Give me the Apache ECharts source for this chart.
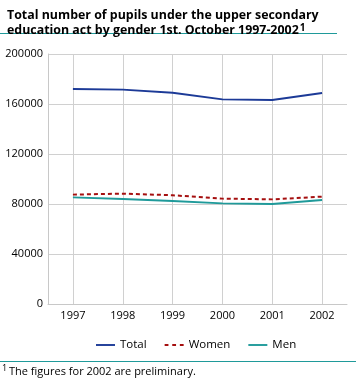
<!DOCTYPE html>
<html><head><meta charset="utf-8">
<script src="https://cdn.jsdelivr.net/npm/echarts@6/dist/echarts.min.js"></script>
<style>html,body{margin:0;padding:0;background:#fff}#c{width:356px;height:380px}</style>
</head><body><div id="c"></div>
<script>
const years = ['1997','1998','1999','2000','2001','2002'];
const total = [172000, 171500, 169000, 163700, 163200, 168800];
const women = [87500, 88300, 87000, 84300, 83700, 85900];
const men = [85300, 84000, 82400, 80500, 80000, 83200];
const yTicks = [0, 40000, 80000, 120000, 160000, 200000];

const font = '"Open Sans", "DejaVu Sans", sans-serif';
const chart = echarts.init(document.getElementById('c'), null, {renderer:'canvas'});
chart.setOption({
  animation:false,
  textStyle:{fontFamily:font},
  title:{
    text:'Total number of pupils under the upper secondary\neducation act by gender 1st. October 1997-2002{s|1}',
    left:2, top:3,
    textStyle:{fontFamily:font, fontSize:12.4, fontWeight:'bold', color:'#000', lineHeight:15,
      rich:{s:{fontSize:10, fontWeight:'bold', verticalAlign:'top', lineHeight:15, padding:[0,0,7,1]}}}
  },
  graphic:[
    {type:'rect', shape:{x:0,y:33,width:337,height:1}, style:{fill:'#1f9a9a'}},
    {type:'rect', shape:{x:0,y:361,width:356,height:1}, style:{fill:'#1f9a9a'}},
    {type:'text', left:2, top:364, style:{text:'1', font:'9px '+font, fill:'#000'}},
    {type:'text', left:9, top:366, style:{text:'The figures for 2002 are preliminary.', font:'11px '+font, fill:'#000'}}
  ],
  legend:{
    top:334, left:91, itemWidth:19, itemGap:18, itemHeight:2,
    textStyle:{fontFamily:font, fontSize:11.5, color:'#000'},
    data:[
      {name:'Total', icon:'path://M0,0h20v2h-20z'},
      {name:'Women', icon:'path://M0,0h4v2h-4zM8,0h4v2h-4zM16,0h4v2h-4z'},
      {name:'Men', icon:'path://M0,0h20v2h-20z'}
    ]
  },
  grid:{left:48, right:9, top:54, bottom:76, containLabel:false},
  xAxis:{
    type:'category', data:years, boundaryGap:true,
    axisLine:{show:true, lineStyle:{color:'#c8c8c8'}},
    axisTick:{show:false},
    axisLabel:{fontFamily:font, fontSize:11, color:'#000', margin:6},
    splitLine:{show:true, alignWithLabel:true, lineStyle:{color:'#d0d0d0', width:1}}
  },
  yAxis:{
    type:'value', min:yTicks[0], max:yTicks[yTicks.length-1], interval:yTicks[1]-yTicks[0],
    axisLine:{show:true, lineStyle:{color:'#c8c8c8'}},
    axisTick:{show:false},
    axisLabel:{fontFamily:font, fontSize:11, color:'#000', margin:5, formatter:v=>String(v)},
    splitLine:{show:true, lineStyle:{color:'#d0d0d0', width:1}}
  },
  series:[
    {name:'Total', type:'line', data:total, symbol:'none', showSymbol:false,
      lineStyle:{color:'#1c3a97', width:2}, itemStyle:{color:'#1c3a97'}},
    {name:'Women', type:'line', data:women, symbol:'none', showSymbol:false,
      lineStyle:{color:'#a50f0f', width:2, type:[4,3]}, itemStyle:{color:'#a50f0f'}},
    {name:'Men', type:'line', data:men, symbol:'none', showSymbol:false,
      lineStyle:{color:'#1f9a9a', width:2}, itemStyle:{color:'#1f9a9a'}}
  ]
});
</script></body></html>
